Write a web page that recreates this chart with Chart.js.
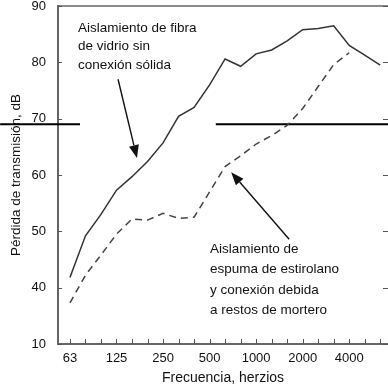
<!DOCTYPE html>
<html>
<head>
<meta charset="utf-8">
<script src="https://cdn.jsdelivr.net/npm/chart.js@4/dist/chart.umd.min.js"></script>
<style>
  html, body { margin: 0; padding: 0; background: #fff; }
  #wrap { width: 388px; height: 389px; }
</style>
</head>
<body>
<div id="wrap"><canvas id="chart"></canvas></div>
<script>
// third-octave bands, x = index into this list
var bands = ["63", "80", "100", "125", "160", "200", "250", "315", "400", "500", "630",
  "800", "1000", "1250", "1600", "2000", "2500", "3150", "4000", "5000", "6300"];
var labeledBands = ["63", "125", "250", "500", "1000", "2000", "4000"];

// Aislamiento de fibra de vidrio sin conexión sólida
var fibra = [41.8, 49.2, 53, 57.3, 59.7, 62.4, 65.7, 70.4, 72, 76, 80.6,
  79.3, 81.5, 82.2, 83.8, 85.8, 86.0, 86.5, 83.0, 81.3, 79.5];
// Aislamiento de espuma de estirolano y conexión debida a restos de mortero
var espuma = [37.3, 42.2, 45.8, 49.5, 52.2, 52, 53.2, 52.3, 52.5, 57, 61.5,
  63.4, 65.5, 67, 68.8, 71.8, 75.7, 79.6, 81.7];

var yTicks = [30, 40, 50, 60, 70, 80, 90];
var yTickLabels = ["10", "40", "50", "60", "70", "80", "90"];

// reference line across the chart (gap in the middle)
var refLine = [[-4.5, 69], [0.65, 69], [5, null], [9.4, 69], [20.5, 69]];

var note1 = ["Aislamiento de fibra", "de vidrio sin", "conexión sólida"];
var note2 = ["Aislamiento de", "espuma de estirolano", "y conexión debida", "a restos de mortero"];

function toPoints(arr) {
  return arr.map(function (v, i) { return { x: i, y: v }; });
}

var annotations = [
  { lines: note1, x: 0.52, y: 86.1, lh: 18.5 },
  { lines: note2, x: 9.03, y: 46.9, lh: 20.5 }
];
var arrows = [
  { from: [3.1, 77.0], to: [4.32, 63.0] },
  { from: [14.13, 48.6], to: [10.39, 60.5] }
];

var fam = "'Liberation Sans', Arial, sans-serif";

var framePlugin = {
  id: "frame",
  afterDatasetsDraw: function (chart) {
    var c = chart.ctx, a = chart.chartArea;
    var xs = chart.scales.x, ys = chart.scales.y;
    c.save();
    // top border
    c.strokeStyle = "#666";
    c.lineWidth = 1.5;
    c.beginPath();
    c.moveTo(a.left, a.top);
    c.lineTo(a.right, a.top);
    c.stroke();
    // inward ticks
    c.strokeStyle = "#555";
    c.lineWidth = 1;
    c.beginPath();
    xs.ticks.forEach(function (t) {
      var px = Math.round(xs.getPixelForValue(t.value)) + 0.5;
      c.moveTo(px, a.bottom);
      c.lineTo(px, a.bottom - 5);
    });
    ys.ticks.forEach(function (t) {
      var py = Math.round(ys.getPixelForValue(t.value)) + 0.5;
      c.moveTo(a.left, py);
      c.lineTo(a.left + 4, py);
      c.moveTo(a.right, py);
      c.lineTo(a.right - 5, py);
    });
    c.stroke();

    // notes
    c.fillStyle = "#111";
    c.font = "13.5px " + fam;
    c.textBaseline = "middle";
    c.textAlign = "left";
    annotations.forEach(function (n) {
      var px = xs.getPixelForValue(n.x), py = ys.getPixelForValue(n.y);
      n.lines.forEach(function (s, k) { c.fillText(s, px, py + k * n.lh); });
    });

    // arrows
    c.strokeStyle = "#111";
    c.lineWidth = 1.4;
    arrows.forEach(function (ar) {
      var x0 = xs.getPixelForValue(ar.from[0]), y0 = ys.getPixelForValue(ar.from[1]);
      var x1 = xs.getPixelForValue(ar.to[0]), y1 = ys.getPixelForValue(ar.to[1]);
      var ang = Math.atan2(y1 - y0, x1 - x0);
      var hl = 13, hw = 5;
      var bx = x1 - hl * Math.cos(ang), by = y1 - hl * Math.sin(ang);
      c.beginPath();
      c.moveTo(x0, y0);
      c.lineTo(bx, by);
      c.stroke();
      c.beginPath();
      c.moveTo(x1, y1);
      c.lineTo(bx + hw * Math.sin(ang), by - hw * Math.cos(ang));
      c.lineTo(bx - hw * Math.sin(ang), by + hw * Math.cos(ang));
      c.closePath();
      c.fill();
    });
    c.restore();
  }
};

var tickFont = { family: fam, size: 13 };

new Chart(document.getElementById("chart"), {
  type: "line",
  data: {
    datasets: [
      {
        label: "Fibra de vidrio",
        data: toPoints(fibra),
        borderColor: "#333",
        borderWidth: 1.5,
        pointRadius: 0,
        tension: 0
      },
      {
        label: "Espuma de estirolano",
        data: toPoints(espuma),
        borderColor: "#444",
        borderWidth: 1.5,
        borderDash: [7, 5],
        pointRadius: 0,
        tension: 0
      },
      {
        label: "Referencia",
        data: refLine.map(function (p) { return { x: p[0], y: p[1] }; }),
        borderColor: "#000",
        borderWidth: 2,
        pointRadius: 0,
        spanGaps: false,
        clip: false
      }
    ]
  },
  options: {
    responsive: true,
    maintainAspectRatio: false,
    animation: false,
    layout: { padding: { top: 6, right: 0, left: 0, bottom: 0 } },
    plugins: { legend: { display: false }, tooltip: { enabled: false } },
    scales: {
      x: {
        type: "linear",
        min: -0.77,
        max: 20.5,
        afterFit: function (s) {
          s.height = 45;
          s.paddingLeft = 0;
          s.paddingRight = 0;
        },
        afterBuildTicks: function (s) {
          s.ticks = bands.map(function (b, i) { return { value: i }; });
        },
        grid: { drawOnChartArea: false, drawTicks: false },
        border: { display: true, color: "#666", width: 2 },
        ticks: {
          autoSkip: false,
          maxRotation: 0,
          padding: 7,
          color: "#111",
          font: tickFont,
          callback: function (v) {
            var b = bands[v];
            return labeledBands.indexOf(b) >= 0 ? b : "";
          }
        },
        title: {
          display: true,
          text: "Frecuencia, herzios",
          color: "#111",
          font: { family: fam, size: 14 },
          padding: { top: 4, bottom: 2 }
        }
      },
      y: {
        min: 30,
        max: 90,
        afterFit: function (s) {
          s.width = 58;
          s.paddingTop = 0;
          s.paddingBottom = 0;
        },
        afterBuildTicks: function (s) {
          s.ticks = yTicks.map(function (v) { return { value: v }; });
        },
        grid: { drawOnChartArea: false, drawTicks: false },
        border: { display: true, color: "#666", width: 2 },
        ticks: {
          padding: 12,
          color: "#111",
          font: tickFont,
          callback: function (v) {
            var k = yTicks.indexOf(v);
            return k >= 0 ? yTickLabels[k] : "";
          }
        },
        title: {
          display: true,
          text: "Pérdida de transmisión, dB",
          color: "#111",
          font: { family: fam, size: 13.5 },
          padding: { top: 8, bottom: 0 }
        }
      }
    }
  },
  plugins: [framePlugin]
});
</script>
</body>
</html>
